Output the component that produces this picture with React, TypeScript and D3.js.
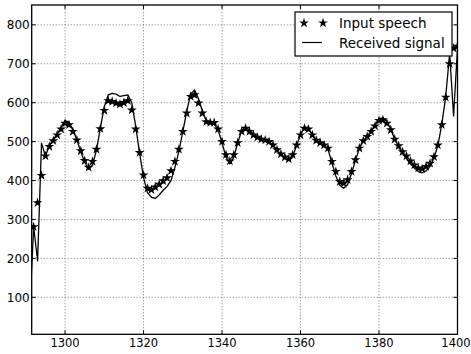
import React, { useEffect, useRef } from "react";
import * as d3 from "d3";

// sample index (x axis)
const inputX: number[] = d3.range(1292, 1401);
// input speech, one star per sample 1292..1400
const inputSpeech: number[] = [
  281, 343, 413, 463, 487, 502, 517, 532, 547, 543,
  526, 504, 476, 451, 434, 449, 480, 533, 580, 605,
  603, 599, 596, 600, 605, 581, 532, 472, 414, 380,
  376, 383, 390, 399, 407, 425, 449, 480, 526, 573,
  616, 620, 599, 573, 551, 549, 549, 532, 500, 466,
  450, 466, 497, 526, 534, 526, 517, 511, 506, 504,
  500, 491, 479, 468, 460, 455, 466, 491, 517, 534,
  532, 517, 503, 497, 491, 483, 449, 423, 397, 393,
  402, 423, 453, 483, 502, 513, 526, 540, 554, 556,
  547, 530, 506, 489, 474, 463, 450, 440, 432, 430,
  436, 444, 461, 491, 543, 614, 700, 740, 745,
];

// received signal, samples 1291..1400
const signalX: number[] = d3.range(1291, 1401);
const receivedSignal: number[] = [
  70, 281, 194, 496, 463, 490, 505, 520, 537, 554,
  550, 530, 505, 474, 447, 429, 440, 478, 535, 590,
  620, 624, 622, 616, 618, 620, 600, 540, 470, 408,
  369, 357, 354, 363, 375, 385, 400, 434, 475, 525,
  578, 622, 633, 610, 578, 553, 546, 545, 530, 497,
  460, 443, 460, 497, 528, 537, 529, 519, 512, 507,
  504, 500, 490, 478, 466, 457, 452, 462, 490, 518,
  538, 534, 518, 503, 497, 490, 480, 445, 412, 388,
  380, 390, 418, 452, 482, 502, 513, 527, 543, 559,
  561, 552, 532, 506, 486, 470, 457, 443, 432, 423,
  420, 425, 436, 458, 490, 545, 616, 727, 566, 740,
];

const xTicks: number[] = [1300, 1320, 1340, 1360, 1380, 1400];
const yTicks: number[] = [100, 200, 300, 400, 500, 600, 700, 800];
const legendLabels: string[] = ["Input speech", "Received signal"];

function App() {
  const svgRef = useRef<SVGSVGElement>(null);
  const width = 471;
  const height = 354;

  useEffect(() => {
    const svg = d3.select(svgRef.current);
    svg.selectAll("*").remove();

    const margin = { top: 5, right: 13.5, bottom: 19.7, left: 31.7 };
    const font = "DejaVu Sans, sans-serif";

    const x = d3
      .scaleLinear()
      .domain([1291.5, 1400])
      .range([margin.left, width - margin.right]);

    const y = d3
      .scaleLinear()
      .domain([5, 851])
      .range([height - margin.bottom, margin.top]);

    const [x0, x1] = x.range();
    const [y0, y1] = y.range();

    svg
      .append("defs")
      .append("clipPath")
      .attr("id", "plot-clip")
      .append("rect")
      .attr("x", x0)
      .attr("y", y1)
      .attr("width", x1 - x0)
      .attr("height", y0 - y1);

    // dotted grid
    const grid = svg.append("g").attr("stroke", "#555").attr("stroke-width", 0.8).attr("stroke-dasharray", "1,2");
    grid
      .selectAll("line.gx")
      .data(xTicks)
      .join("line")
      .attr("class", "gx")
      .attr("x1", (d) => x(d))
      .attr("x2", (d) => x(d))
      .attr("y1", y0)
      .attr("y2", y1);
    grid
      .selectAll("line.gy")
      .data(yTicks)
      .join("line")
      .attr("class", "gy")
      .attr("x1", x0)
      .attr("x2", x1)
      .attr("y1", (d) => y(d))
      .attr("y2", (d) => y(d));

    const plot = svg.append("g").attr("clip-path", "url(#plot-clip)");

    // received signal line
    const line = d3
      .line<number>()
      .x((d, i) => x(signalX[i]))
      .y((d) => y(d));

    plot
      .append("path")
      .datum(receivedSignal)
      .attr("d", line)
      .attr("fill", "none")
      .attr("stroke", "#000")
      .attr("stroke-width", 1.3)
      .attr("stroke-linejoin", "round");

    // input speech stars
    const star = d3.symbol().type(d3.symbolStar).size(30);
    plot
      .selectAll("path.star")
      .data(inputSpeech)
      .join("path")
      .attr("class", "star")
      .attr("d", star)
      .attr("transform", (d, i) => `translate(${x(inputX[i])},${y(d)})`)
      .attr("fill", "#000");

    // ticks, inside on all four sides
    const ticks = svg.append("g").attr("stroke", "#000").attr("stroke-width", 1);
    xTicks.forEach((t) => {
      ticks.append("line").attr("x1", x(t)).attr("x2", x(t)).attr("y1", y0).attr("y2", y0 - 4);
      ticks.append("line").attr("x1", x(t)).attr("x2", x(t)).attr("y1", y1).attr("y2", y1 + 4);
    });
    yTicks.forEach((t) => {
      ticks.append("line").attr("x1", x0).attr("x2", x0 + 4).attr("y1", y(t)).attr("y2", y(t));
      ticks.append("line").attr("x1", x1).attr("x2", x1 - 4).attr("y1", y(t)).attr("y2", y(t));
    });

    // frame
    svg
      .append("rect")
      .attr("x", x0)
      .attr("y", y1)
      .attr("width", x1 - x0)
      .attr("height", y0 - y1)
      .attr("fill", "none")
      .attr("stroke", "#000")
      .attr("stroke-width", 1.3);

    // tick labels
    svg
      .append("g")
      .selectAll("text")
      .data(xTicks)
      .join("text")
      .attr("x", (d) => Math.min(x(d), width - 15))
      .attr("y", y0 + 13)
      .attr("text-anchor", "middle")
      .style("font-family", font)
      .style("font-size", "11.5px")
      .text((d) => d);

    svg
      .append("g")
      .selectAll("text")
      .data(yTicks)
      .join("text")
      .attr("x", x0 - 2)
      .attr("y", (d) => y(d))
      .attr("dy", "0.36em")
      .attr("text-anchor", "end")
      .style("font-family", font)
      .style("font-size", "12px")
      .text((d) => d);

    // legend
    const legend = svg.append("g");
    legend
      .append("rect")
      .attr("x", 295)
      .attr("y", 12)
      .attr("width", 157)
      .attr("height", 44)
      .attr("fill", "#fff")
      .attr("stroke", "#000")
      .attr("stroke-width", 1.2);

    [304, 323].forEach((lx) => {
      legend
        .append("path")
        .attr("d", star)
        .attr("transform", `translate(${lx},23)`)
        .attr("fill", "#000");
    });
    legend
      .append("line")
      .attr("x1", 302)
      .attr("x2", 322)
      .attr("y1", 42.5)
      .attr("y2", 42.5)
      .attr("stroke", "#000")
      .attr("stroke-width", 1.2);

    legend
      .selectAll("text")
      .data(legendLabels)
      .join("text")
      .attr("x", 339)
      .attr("y", (d, i) => 28 + i * 20)
      .style("font-family", font)
      .style("font-size", "13.5px")
      .text((d) => d);
  }, []);

  return (
    <svg
      ref={svgRef}
      width={width}
      height={height}
      style={{ position: "absolute", left: 0, top: 0, background: "#fff" }}
    ></svg>
  );
}

export default App;
